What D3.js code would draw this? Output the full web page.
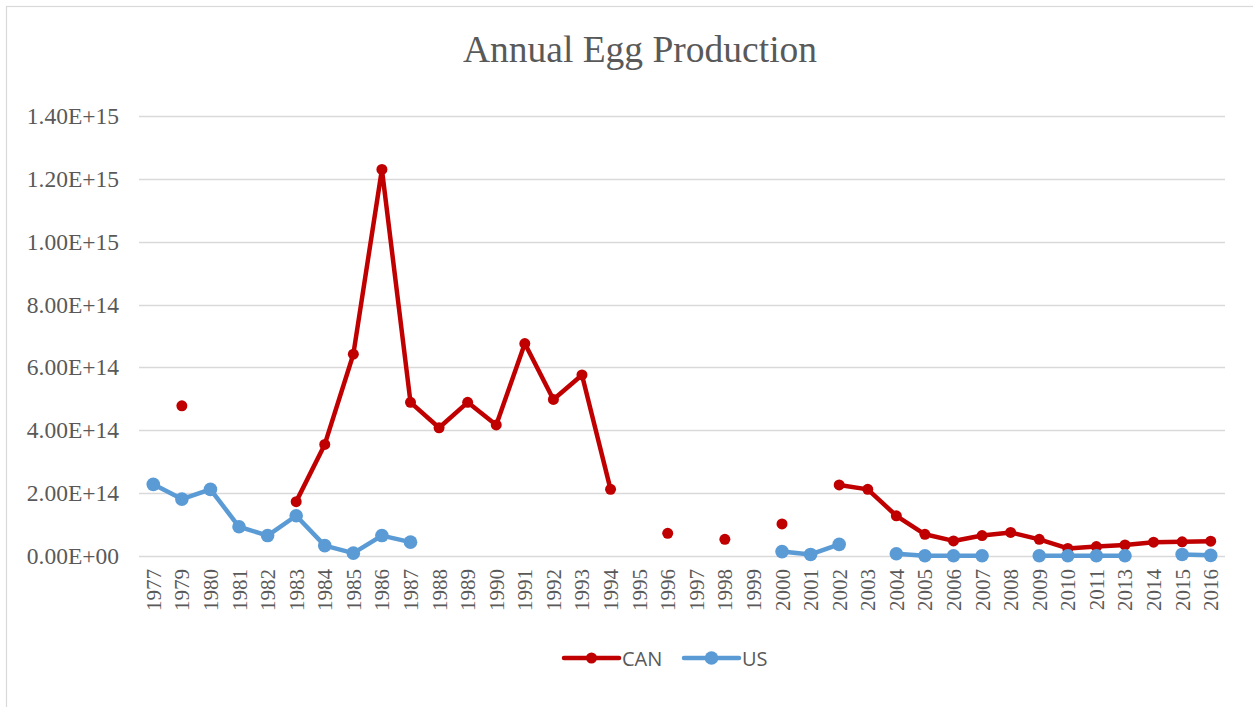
<!DOCTYPE html>
<html>
<head>
<meta charset="utf-8">
<script src="https://cdn.jsdelivr.net/npm/d3@7"></script>
<style>
  html, body { margin: 0; padding: 0; background: #fff; }
  svg { display: block; }
</style>
</head>
<body>
<svg id="chart" width="1253" height="707"></svg>
<script>
// Years on the category axis (1978 and 2012 are absent from the source table)
const years = [1977, 1979, 1980, 1981, 1982, 1983, 1984, 1985, 1986, 1987, 1988, 1989,
  1990, 1991, 1992, 1993, 1994, 1995, 1996, 1997, 1998, 1999, 2000, 2001, 2002, 2003,
  2004, 2005, 2006, 2007, 2008, 2009, 2010, 2011, 2013, 2014, 2015, 2016];

// Annual egg production, Canada (null = no record)
const canValues = [null, 4.78e14, null, null, null, 1.73e14, 3.55e14, 6.42e14, 1.23e15, 4.89e14,
  4.08e14, 4.89e14, 4.17e14, 6.76e14, 4.98e14, 5.76e14, 2.12e14, null, 7.2e13, null,
  5.3e13, null, 1.02e14, null, 2.26e14, 2.12e14, 1.28e14, 6.9e13, 4.8e13, 6.5e13,
  7.5e13, 5.3e13, 2.4e13, 3.0e13, 3.5e13, 4.4e13, 4.5e13, 4.7e13];

// Annual egg production, United States (null = no record)
const usValues = [2.28e14, 1.81e14, 2.12e14, 9.3e13, 6.5e13, 1.28e14, 3.3e13, 9e12, 6.5e13, 4.4e13,
  null, null, null, null, null, null, null, null, null, null, null, null,
  1.4e13, 5e12, 3.7e13, null, 7e12, 1e12, 1e12, 1e12, null,
  1e12, 1e12, 1e12, 1e12, null, 5e12, 2e12];

const yTicks = [0, 2e14, 4e14, 6e14, 8e14, 1e15, 1.2e15, 1.4e15];

const seriesList = [
  { name: "CAN", values: canValues, color: "#C00000", r: 5.5 },
  { name: "US", values: usValues, color: "#5B9BD5", r: 6.8 }
];

const svg = d3.select("#chart");
const textColor = "#595959";
const serif = "'Liberation Serif', 'Times New Roman', serif";

// chart frame
svg.append("rect")
  .attr("x", 6.5).attr("y", 6.5)
  .attr("width", 1260).attr("height", 710)
  .attr("fill", "none").attr("stroke", "#D9D9D9").attr("stroke-width", 1.2);

const x = d3.scalePoint().domain(years).range([139, 1225]).padding(0.5);
const y = d3.scaleLinear().domain([0, 1.4e15]).range([556, 116]);

// title
svg.append("text")
  .attr("x", 640).attr("y", 62)
  .attr("text-anchor", "middle")
  .attr("font-family", serif)
  .attr("font-size", 37.5)
  .attr("fill", textColor)
  .text("Annual Egg Production");

// horizontal gridlines
svg.append("g")
  .selectAll("line")
  .data(yTicks)
  .join("line")
  .attr("x1", 139).attr("x2", 1225)
  .attr("y1", d => Math.round(y(d)) + 0.5)
  .attr("y2", d => Math.round(y(d)) + 0.5)
  .attr("stroke", "#D9D9D9").attr("stroke-width", 1.3);

// y axis labels
const yAxis = d3.axisLeft(y)
  .tickValues(yTicks)
  .tickSize(0)
  .tickPadding(0)
  .tickFormat(d => d3.format(".2e")(d).replace(/e([+-])(\d)$/, "e$10$2").toUpperCase());
const gy = svg.append("g").attr("transform", "translate(119,0)").call(yAxis);
gy.select(".domain").remove();
gy.selectAll("text")
  .attr("font-family", serif)
  .attr("font-size", 23.5)
  .attr("fill", textColor);

// x axis labels, rotated
const xAxis = d3.axisBottom(x).tickSize(0).tickPadding(0);
const gx = svg.append("g").attr("transform", "translate(0,556)").call(xAxis);
gx.select(".domain").remove();
gx.selectAll("text")
  .attr("font-family", serif)
  .attr("font-size", 21)
  .attr("fill", textColor)
  .attr("text-anchor", "end")
  .attr("dy", null)
  .attr("y", 0)
  .attr("transform", "translate(7,13) rotate(-90)");

// series lines and markers
const line = d3.line()
  .defined(d => d.v != null)
  .x(d => x(d.year))
  .y(d => y(d.v));

seriesList.forEach(s => {
  const pts = years.map((yr, i) => ({ year: yr, v: s.values[i] }));
  const g = svg.append("g");
  g.append("path")
    .datum(pts)
    .attr("d", line)
    .attr("fill", "none")
    .attr("stroke", s.color)
    .attr("stroke-width", 4.5)
    .attr("stroke-linejoin", "round")
    .attr("stroke-linecap", "round");
  g.selectAll("circle")
    .data(pts.filter(d => d.v != null))
    .join("circle")
    .attr("cx", d => x(d.year))
    .attr("cy", d => y(d.v))
    .attr("r", s.r)
    .attr("fill", s.color);
});

// legend
const legend = svg.append("g");
const legendItems = [
  { s: seriesList[0], x0: 564 },
  { s: seriesList[1], x0: 684 }
];
legendItems.forEach(item => {
  const ly = 658;
  legend.append("line")
    .attr("x1", item.x0).attr("x2", item.x0 + 55)
    .attr("y1", ly).attr("y2", ly)
    .attr("stroke", item.s.color).attr("stroke-width", 4.5)
    .attr("stroke-linecap", "round");
  legend.append("circle")
    .attr("cx", item.x0 + 27.5).attr("cy", ly).attr("r", item.s.r)
    .attr("fill", item.s.color);
  legend.append("text")
    .attr("x", item.x0 + 58).attr("y", ly + 7.5)
    .attr("font-family", "'Open Sans', 'Liberation Sans', sans-serif")
    .attr("font-size", 20)
    .attr("fill", textColor)
    .text(item.s.name);
});
</script>
</body>
</html>
